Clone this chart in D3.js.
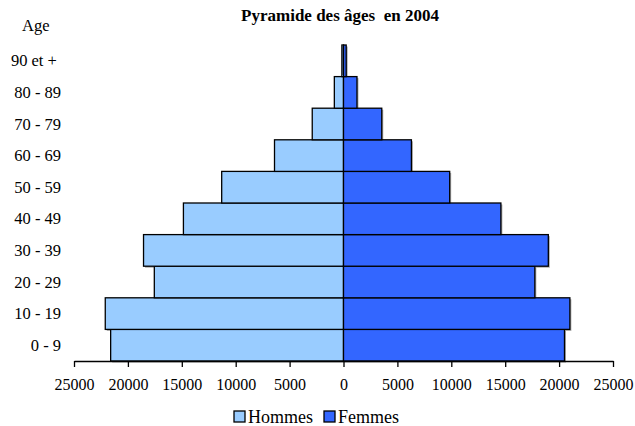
<!DOCTYPE html>
<html>
<head>
<meta charset="utf-8">
<script src="https://cdn.jsdelivr.net/npm/d3@7"></script>
<style>
  body { margin: 0; background: #fff; }
  svg { display: block; font-family: 'Liberation Serif', 'Times New Roman', serif; }
</style>
</head>
<body>
<div id="pyramid"></div>
<script>
// age groups, from bottom to top
const ageGroups = ['0 - 9', '10 - 19', '20 - 29', '30 - 39', '40 - 49', '50 - 59', '60 - 69', '70 - 79', '80 - 89', '90 et + '];
const hommes = [21600, 22100, 17550, 18550, 14850, 11300, 6400, 2900, 850, 150];
const femmes = [20500, 21000, 17750, 19000, 14600, 9850, 6300, 3550, 1250, 250];
const xTicks = [-25000, -20000, -15000, -10000, -5000, 0, 5000, 10000, 15000, 20000, 25000];
const seriesNames = ['Hommes', 'Femmes'];
const colors = ['#99ccff', '#3366ff'];

const width = 635, height = 426;
const margin = { top: 45, right: 22, bottom: 65, left: 74 };

const svg = d3.select('#pyramid')
  .append('svg')
  .attr('width', width)
  .attr('height', height);

const x = d3.scaleLinear()
  .domain([-25000, 25000])
  .range([margin.left, width - margin.right]);

const y = d3.scaleBand()
  .domain(ageGroups)
  .range([height - margin.bottom, margin.top])
  .padding(0);

const rows = ageGroups.map((g, i) => ({ group: g, h: hommes[i], f: femmes[i] }));

// shadows (excel style)
const shadow = svg.append('g').attr('fill', '#aaa');
shadow.selectAll('.sh')
  .data(rows)
  .join('rect')
  .attr('x', d => x(-d.h) + 1.5)
  .attr('y', d => y(d.group) + 1.5)
  .attr('width', d => x(d.f) - x(-d.h))
  .attr('height', y.bandwidth());

// hommes on the left
svg.append('g')
  .selectAll('rect')
  .data(rows)
  .join('rect')
  .attr('x', d => x(-d.h))
  .attr('y', d => y(d.group))
  .attr('width', d => x(0) - x(-d.h))
  .attr('height', y.bandwidth())
  .attr('fill', colors[0])
  .attr('stroke', '#000')
  .attr('stroke-width', 1.3);

// femmes on the right
svg.append('g')
  .selectAll('rect')
  .data(rows)
  .join('rect')
  .attr('x', x(0))
  .attr('y', d => y(d.group))
  .attr('width', d => x(d.f) - x(0))
  .attr('height', y.bandwidth())
  .attr('fill', colors[1])
  .attr('stroke', '#000')
  .attr('stroke-width', 1.3);

//x-axis
const xAxis = svg.append('g')
  .attr('transform', `translate(0, ${height - margin.bottom})`)
  .call(d3.axisBottom(x)
    .tickValues(xTicks)
    .tickFormat(d => Math.abs(d))
    .tickSize(6)
    .tickSizeOuter(0)
    .tickPadding(12));
xAxis.select('.domain').attr('stroke', '#000').attr('stroke-width', 1.3);
xAxis.selectAll('.tick line').attr('stroke', '#000').attr('stroke-width', 1.3);
xAxis.selectAll('.tick text')
  .attr('fill', '#000')
  .style('font-size', '16px')
  .style('font-family', "'Liberation Serif', serif");

//y labels
svg.append('g')
  .selectAll('text')
  .data(ageGroups)
  .join('text')
  .attr('x', 61)
  .attr('y', d => y(d) + y.bandwidth() / 2 + 5.5)
  .attr('text-anchor', 'end')
  .style('font-size', '16.5px')
  .style('white-space', 'pre')
  .text(d => d);

svg.append('text')
  .attr('x', 22)
  .attr('y', 31)
  .style('font-size', '16.5px')
  .text('Age');

// title
svg.append('text')
  .attr('x', 340)
  .attr('y', 21)
  .attr('text-anchor', 'middle')
  .style('font-size', '17px')
  .style('font-weight', 'bold')
  .style('white-space', 'pre')
  .text('Pyramide des âges  en 2004');

// legend
const legendX = [234, 324];
const legend = svg.append('g')
  .selectAll('g')
  .data(seriesNames)
  .join('g')
  .attr('transform', (d, i) => `translate(${legendX[i]}, 411)`);
legend.append('rect')
  .attr('width', 11)
  .attr('height', 11)
  .attr('fill', (d, i) => colors[i])
  .attr('stroke', '#000')
  .attr('stroke-width', 1.3);
legend.append('text')
  .attr('x', 14)
  .attr('y', 11.5)
  .style('font-size', '18px')
  .text(d => d);
</script>
</body>
</html>
